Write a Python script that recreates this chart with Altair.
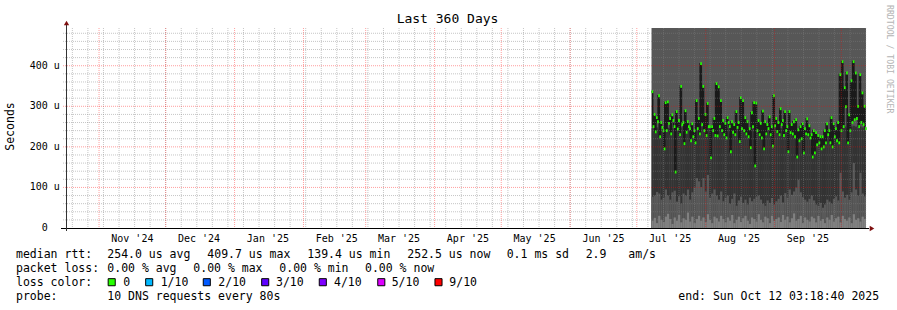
import altair as alt
import pandas as pd

FONT = "DejaVu Sans Mono"

# ---------------- data ----------------
# median rtt, two readings per day (first / second half of the day), units: microseconds
med_a = [336, 280, 272, 326, 260, 240, 309, 311, 270, 279,
         250, 287, 265, 349, 260, 289, 262, 245, 257, 240,
         314, 270, 405, 349, 280, 307, 250, 250, 270, 356,
         348, 314, 265, 258, 272, 250, 262, 255, 287, 260,
         321, 314, 272, 262, 245, 284, 309, 308, 265, 258,
         288, 262, 255, 274, 250, 326, 270, 260, 294, 265,
         287, 250, 287, 255, 262, 267, 242, 250, 257, 245,
         269, 252, 230, 240, 235, 228, 225, 225, 240, 257,
         240, 272, 257, 245, 260, 378, 410, 346, 382, 279,
         363, 410, 382, 300, 378, 333, 300]
med_b = [250, 237, 262, 225, 248, 195, 240, 258, 232, 265,
         138, 244, 230, 255, 208, 236, 250, 215, 225, 210,
         245, 232, 255, 240, 228, 250, 173, 240, 228, 227,
         250, 240, 230, 222, 260, 188, 236, 230, 248, 213,
         245, 240, 232, 225, 198, 250, 153, 240, 230, 222,
         195, 232, 245, 230, 202, 252, 238, 230, 255, 228,
         240, 188, 235, 232, 225, 175, 215, 220, 185, 232,
         230, 222, 175, 185, 205, 210, 195, 200, 210, 230,
         210, 200, 225, 215, 210, 240, 250, 299, 210, 240,
         260, 267, 270, 250, 260, 255, 245]
# smoke layers: top of dark smoke, top of mid-grey smoke, top of light-grey smoke
smoke_top = [246, 244, 248, 243, 240, 238, 245, 247, 244, 246,
             240, 244, 246, 248, 242, 245, 243, 240, 244, 238,
             247, 245, 250, 248, 244, 246, 236, 242, 244, 245,
             248, 246, 244, 240, 246, 232, 244, 250, 248, 240,
             246, 245, 243, 240, 236, 244, 238, 246, 244, 240,
             238, 244, 245, 243, 236, 248, 245, 242, 246, 243,
             245, 236, 244, 245, 240, 232, 236, 238, 228, 236,
             230, 222, 205, 210, 215, 212, 208, 210, 215, 228,
             222, 225, 235, 232, 236, 248, 252, 250, 246, 248,
             250, 252, 250, 246, 250, 248, 246]
smoke_mid = [77, 80, 89, 85, 70, 75, 95, 80, 70, 88,
             92, 65, 78, 60, 85, 80, 95, 70, 88, 100,
             123, 115, 101, 123, 90, 131, 75, 85, 95, 80,
             70, 90, 66, 75, 80, 60, 72, 85, 55, 68,
             77, 62, 70, 58, 75, 66, 72, 77, 80, 70,
             60, 55, 68, 62, 74, 58, 66, 72, 80, 63,
             86, 75, 95, 82, 90, 100, 119, 88, 76, 70,
             65, 72, 80, 68, 58, 55, 62, 50, 58, 70,
             65, 60, 72, 78, 68, 136, 90, 75, 82, 70,
             88, 160, 95, 80, 136, 85, 78]
smoke_low = [18, 25, 12, 30, 20, 15, 28, 35, 22, 10,
             26, 18, 32, 14, 24, 20, 38, 16, 28, 12,
             22, 30, 18, 26, 15, 34, 20, 12, 28, 24,
             16, 30, 22, 14, 26, 18, 32, 12, 20, 28,
             15, 24, 30, 18, 10, 26, 22, 16, 34, 20,
             14, 28, 24, 12, 30, 18, 22, 26, 15, 32,
             20, 28, 14, 24, 36, 18, 22, 30, 12, 26,
             20, 16, 28, 24, 14, 30, 18, 22, 12, 26,
             20, 32, 16, 24, 28, 14, 30, 22, 18, 26,
             12, 34, 20, 24, 16, 28, 22]

T_START = pd.Timestamp("2024-10-17T03:18:40Z")
T_END = pd.Timestamp("2025-10-12T03:18:40Z")
DATA_START = pd.Timestamp("2025-07-07T15:00:00Z")
Y_MAX = 493

month_labels = ["Nov '24", "Dec '24", "Jan '25", "Feb '25", "Mar '25", "Apr '25",
                "May '25", "Jun '25", "Jul '25", "Aug '25", "Sep '25"]
month_label_days = ["2024-11-16", "2024-12-16", "2025-01-16", "2025-02-16",
                    "2025-03-16", "2025-04-16", "2025-05-16", "2025-06-16",
                    "2025-07-16", "2025-08-16", "2025-09-16"]
y_tick_values = [100, 200, 300, 400]
y_tick_labels = ["100 u", "200 u", "300 u", "400 u"]
y_zero_label = "0"

title_text = "Last 360 Days"
y_title = "Seconds"
watermark_text = "RRDTOOL / TOBI OETIKER"

line1 = [("median rtt:", 16), ("254.0 us avg", 107.3), ("409.7 us max", 207.3),
         ("139.4 us min", 307.3), ("252.5 us now", 407.3), ("0.1 ms sd", 506.7),
         ("2.9", 585.7), ("am/s", 628.3)]
line2 = [("packet loss:", 16), ("0.00 % avg", 107.3), ("0.00 % max", 193.3),
         ("0.00 % min", 279.3), ("0.00 % now", 365)]
line3 = [("loss color:", 16)]
line4 = [("probe:", 16), ("10 DNS requests every 80s", 107.3),
         ("end: Sun Oct 12 03:18:40 2025", 678.3)]
loss_labels = ["0", "1/10", "2/10", "3/10", "4/10", "5/10", "9/10"]
loss_colors = ["#26ff00", "#00b8ff", "#0059ff", "#5e00ff", "#7e00ff", "#dd00ff", "#ff0000"]
loss_label_x = [123.3, 160.7, 218.3, 276, 334, 391.7, 449.3]
loss_box_x = [111.7, 149.2, 206.8, 265.2, 322.8, 381.3, 438.5]
line_baselines = [258.3, 272.3, 286.3, 300.3]

# ---------------- layout ----------------
OX, OY = 66, 28          # plot origin in page pixels
W, H = 800, 200


def ms(t):
    return int(pd.Timestamp(t).timestamp() * 1000)


def iso(t):
    return pd.Timestamp(t).strftime("%Y-%m-%dT%H:%M:%SZ")


n = len(med_a)
assert all(len(a) == n for a in [med_b, smoke_top, smoke_mid, smoke_low])
edges = pd.date_range(DATA_START, T_END, periods=n + 1)
step = edges[1] - edges[0]
days = pd.DataFrame({
    "t0": [iso(t) for t in edges[:-1]],
    "t1": [iso(t) for t in edges[1:]],
    "top": smoke_top, "mid": smoke_mid, "low": smoke_low,
})
# half-day median series
half_t, half_te, half_v = [], [], []
for i in range(n):
    for k, v in enumerate((med_a[i], med_b[i])):
        t = edges[i] + step * (0.5 * k)
        half_t.append(iso(t))
        half_te.append(iso(t + step * 0.8))
        half_v.append(v)
half_t.append(iso(T_END))
half_te.append(iso(T_END))
half_v.append(med_b[-1])
median = pd.DataFrame({"t": half_t, "te": half_te, "v": half_v})
region = pd.DataFrame({"t0": [iso(DATA_START)], "t1": [iso(T_END)]})

xs = alt.Scale(type="utc", domain=[ms(T_START), ms(T_END)])
ys = alt.Scale(domain=[0, Y_MAX], nice=False, zero=False)


def X(f):
    return alt.X(f, scale=xs, axis=None)


def Y(f):
    return alt.Y(f, scale=ys, axis=None)


bg = alt.Chart(region).mark_rect(color="#575757").encode(
    x=X("t0:T"), x2="t1:T", y=alt.value(0), y2=alt.value(H))


def band(field, color):
    return alt.Chart(days).mark_rect(color=color).encode(
        x=X("t0:T"), x2="t1:T", y=Y(field + ":Q"), y2=alt.datum(0))


dark = band("top", "#333333")
mid = band("mid", "#595959")
low = band("low", "#808080")

med_line = alt.Chart(median).mark_line(color="#1a1a1a", strokeWidth=1.6,
                                       interpolate="step-after").encode(
    x=X("t:T"), y=Y("v:Q"))

green = alt.Chart(median.iloc[:-1]).transform_calculate(
    ya="datum.v - 3.5", yb="datum.v + 3.5").mark_rect(color="#26ff00").encode(
    x=X("t:T"), x2="te:T", y=Y("ya:Q"), y2="yb:Q")

weeks = pd.DataFrame({"d": [iso(t) for t in pd.date_range("2024-10-20", "2025-10-12", freq="7D", tz="UTC")]})
months = pd.DataFrame({"d": [iso(t) for t in pd.date_range("2024-11-01", "2025-10-01", freq="MS", tz="UTC")]})
y_minor = pd.DataFrame({"v": [v for v in range(20, Y_MAX, 20) if v % 100]})
y_major = pd.DataFrame({"v": [v for v in range(100, Y_MAX, 100)]})

minor_x = alt.Chart(weeks).mark_rule(color="#808080", opacity=0.45, strokeDash=[1, 1]).encode(
    x=X("d:T"), y=alt.value(0), y2=alt.value(H + 2))
major_x = alt.Chart(months).mark_rule(color="#ff0000", opacity=0.38, strokeDash=[1, 1]).encode(
    x=X("d:T"), y=alt.value(0), y2=alt.value(H + 2))
minor_y = alt.Chart(y_minor).mark_rule(color="#808080", opacity=0.45, strokeDash=[1, 1]).encode(
    y=Y("v:Q"), x=alt.value(-3), x2=alt.value(W))
major_y = alt.Chart(y_major).mark_rule(color="#ff0000", opacity=0.38, strokeDash=[1, 1]).encode(
    y=Y("v:Q"), x=alt.value(-3), x2=alt.value(W))

one = pd.DataFrame({"a": [0]})
x_line = alt.Chart(one).mark_rule(color="#000000", strokeWidth=1).encode(
    x=alt.value(-5), x2=alt.value(W + 3), y=alt.value(H + 0.5))
y_line = alt.Chart(one).mark_rule(color="#333333", strokeWidth=1).encode(
    x=alt.value(0.5), y=alt.value(H + 3), y2=alt.value(-3))
arrow_up = alt.Chart(one).mark_point(shape="triangle-up", filled=True, size=28,
                                     color="#7f1010", opacity=1).encode(
    x=alt.value(0.5), y=alt.value(-5))
arrow_right = alt.Chart(one).mark_point(shape="triangle-right", filled=True, size=28,
                                        color="#7f1010", opacity=1).encode(
    x=alt.value(W + 6), y=alt.value(H + 0.5))

# axis labels through the scales
xlab_df = pd.DataFrame({"d": [d + "T00:00:00Z" for d in month_label_days], "lab": month_labels})
x_labels = alt.Chart(xlab_df).mark_text(font=FONT, fontSize=10, align="center",
                                        baseline="alphabetic", color="#000").encode(
    x=X("d:T"), y=alt.value(241.7 - OY), text="lab:N")
ylab_df = pd.DataFrame({"v": y_tick_values, "lab": y_tick_labels})
y_labels = alt.Chart(ylab_df).mark_text(font=FONT, fontSize=10, align="right",
                                        baseline="middle", color="#000").encode(
    y=Y("v:Q"), x=alt.value(59.8 - OX), text="lab:N")
y_zero = alt.Chart(pd.DataFrame({"v": [0], "lab": [y_zero_label]})).mark_text(
    font=FONT, fontSize=10, align="right", baseline="middle", color="#000").encode(
    y=Y("v:Q"), x=alt.value(47.8 - OX), text="lab:N")

# ---------------- texts ----------------
texts = []
for line, base in zip([line1, line2, line3, line4], line_baselines):
    for t, x in line:
        texts.append((t, x, base))
for t, x in zip(loss_labels, loss_label_x):
    texts.append((t, x, line_baselines[2]))
text_layers = [
    alt.Chart(one).mark_text(text=t, font=FONT, fontSize=11.5, align="left",
                             baseline="alphabetic", color="#000").encode(
        x=alt.value(x - OX), y=alt.value(b - OY))
    for t, x, b in texts
]
box_layers = [
    alt.Chart(one).mark_square(size=50, filled=True, opacity=1, color=c,
                               stroke="#000", strokeWidth=1).encode(
        x=alt.value(x - OX), y=alt.value(282.2 - OY))
    for c, x in zip(loss_colors, loss_box_x)
]

title_mark = alt.Chart(one).mark_text(text=title_text, font=FONT, fontSize=13,
                                      align="center", baseline="middle", color="#000").encode(
    x=alt.value(447.5 - OX), y=alt.value(19 - OY))
ytitle_mark = alt.Chart(one).mark_text(text=y_title, font=FONT, fontSize=11.5, angle=270,
                                       align="center", baseline="middle", color="#000").encode(
    x=alt.value(11 - OX), y=alt.value(126.5 - OY))
wm_mark = alt.Chart(one).mark_text(text=watermark_text, font=FONT, fontSize=8.2, angle=90,
                                   align="left", baseline="middle", color="#b4b4b4").encode(
    x=alt.value(888.5 - OX), y=alt.value(5 - OY))

chart = alt.layer(
    bg, dark, mid, low, med_line, green,
    minor_x, major_x, minor_y, major_y,
    x_line, y_line, arrow_up, arrow_right,
    x_labels, y_labels, y_zero,
    *text_layers, *box_layers, title_mark, ytitle_mark, wm_mark
).properties(
    width=W, height=H,
    autosize=alt.AutoSizeParams(type="none"),
    padding={"left": OX, "top": OY, "right": 897 - OX - W, "bottom": 310 - OY - H},
    background="white").configure_view(stroke=None)

chart.save("out.html", embed_options={"renderer": "svg", "actions": False})
